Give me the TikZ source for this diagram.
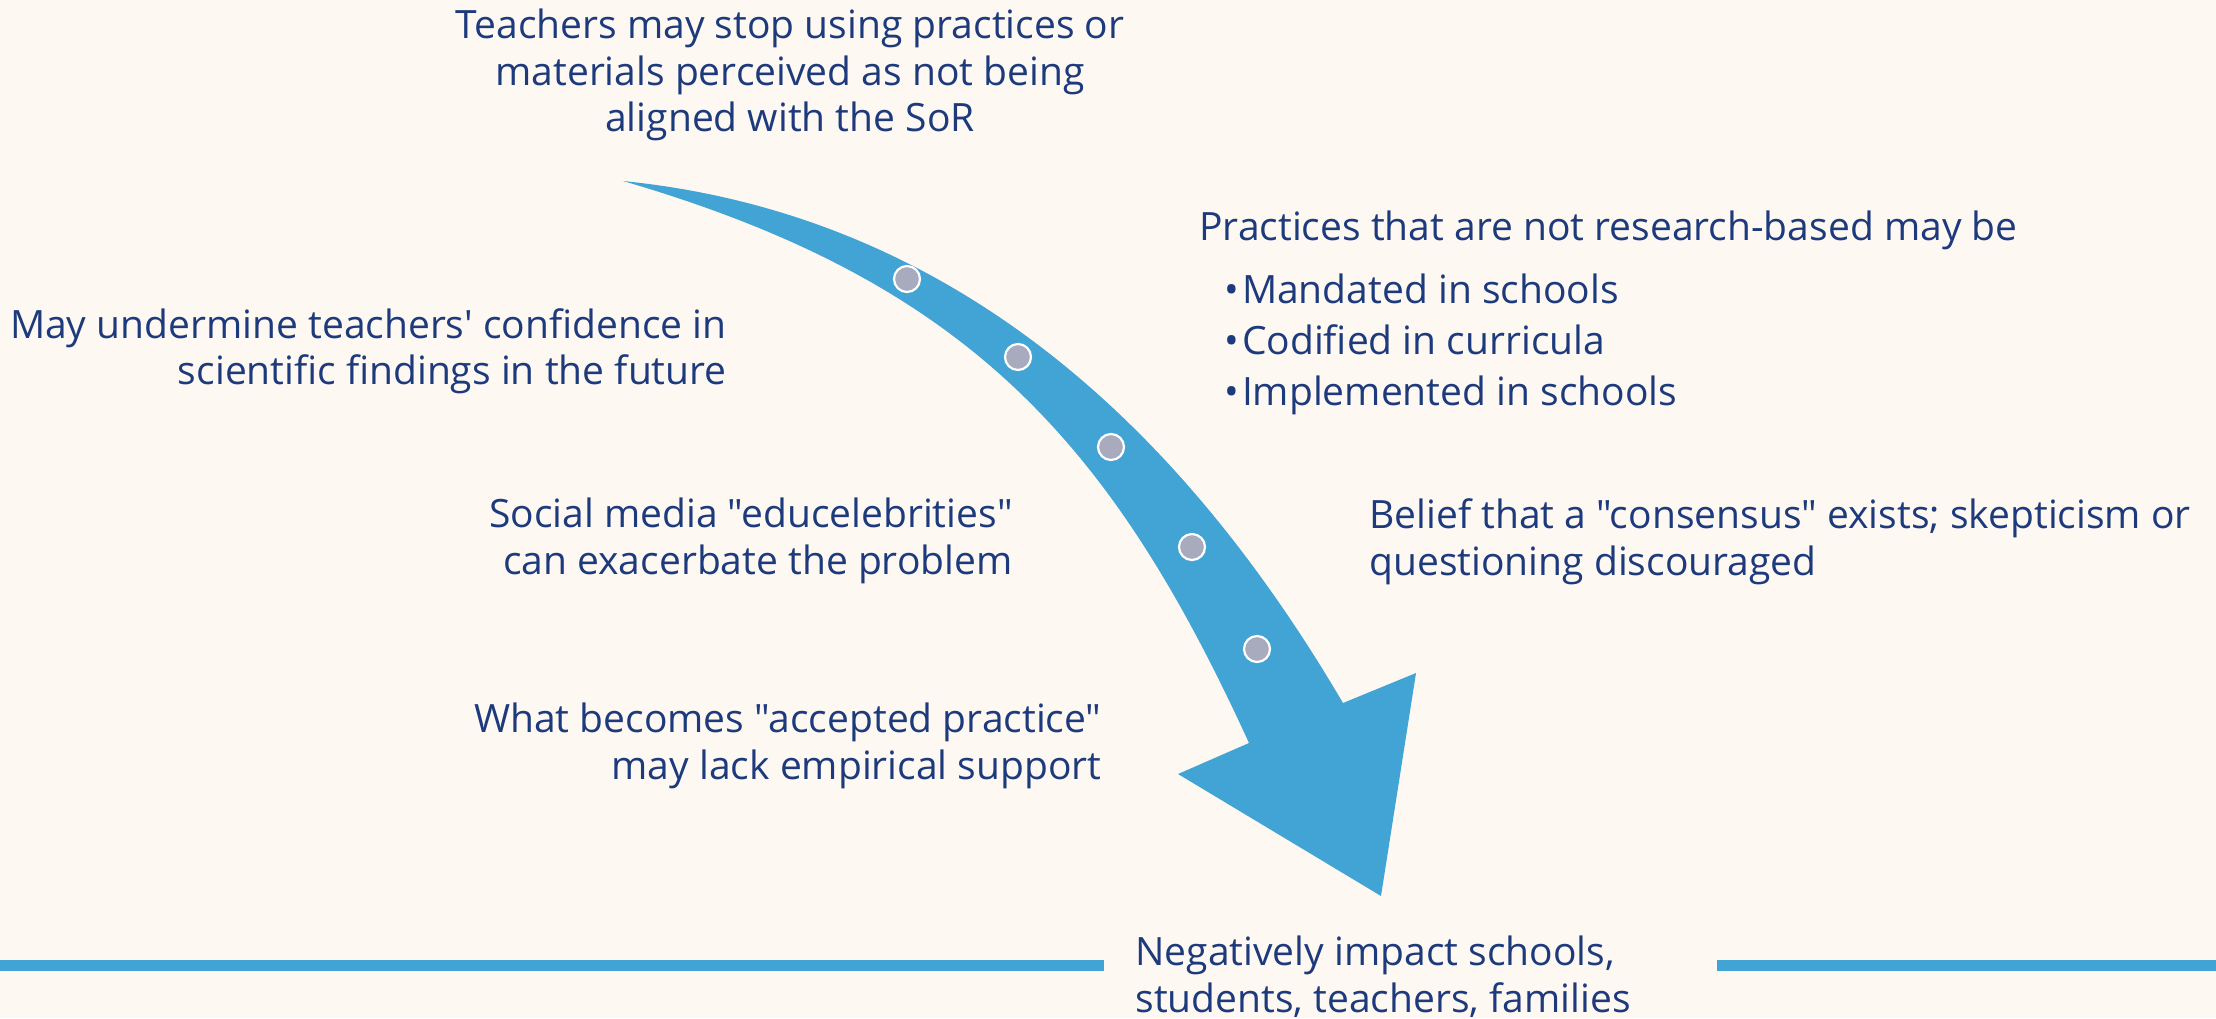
\documentclass[tikz,border=0pt]{standalone}
\usepackage{fontspec}
\newfontfamily\notefont{Open Sans}
\usetikzlibrary{positioning}

\definecolor{bgcream}{HTML}{FEF8F3}
\definecolor{flowblue}{HTML}{41A4D4}
\definecolor{inknavy}{HTML}{1D3A7C}
\definecolor{dotgray}{HTML}{A8ABBE}

\tikzset{
  note/.style={inner sep=0pt, text=inknavy, font=\notefont\fontsize{19.5}{23.3}\selectfont},
  listnote/.style={note, font=\notefont\fontsize{19.5}{25.5}\selectfont},
  stopdot/.style={circle, fill=dotgray, draw=white, line width=1.1pt, minimum size=13pt, inner sep=0pt},
  baseline rule/.style={draw=flowblue, line width=5.5pt}
}

\begin{document}
\begin{tikzpicture}[x=0.5pt,y=-0.5pt]
  \fill[bgcream] (0,0) rectangle (2216,1018);
  \useasboundingbox (0,0) rectangle (2216,1018);

  % the curved arrow
  \fill[flowblue] (623,181) .. controls (986,217.5) and (1206,470) .. (1343,703)
    -- (1416,673) -- (1381,896) -- (1178,774) -- (1249,743)
    .. controls (1111.7,443) and (968.6,281.8) .. (623,181) -- cycle;

  \foreach \p [count=\i] in {(907,279),(1018,357),(1111,447),(1192,547),(1257,649)}
    \node[stopdot] (dot\i) at \p {};

  % texts
  \node[note, anchor=north, align=center] (stopusing) at (790,8.4) {Teachers may stop using practices or\\materials perceived as not being\\aligned with the SoR};
  \node[note, anchor=north east, align=right] (confidence) at (727,308) {May undermine teachers' confidence in\\scientific findings in the future};
  \node[note, anchor=north east, align=right] (educeleb) at (1013,497.4) {Social media "educelebrities"\\can exacerbate the problem};
  \node[note, anchor=north east, align=right] (accepted) at (1102,702.4) {What becomes "accepted practice"\\may lack empirical support};
  \node[note, anchor=north west] (notresearch) at (1199,210.4) {Practices that are not research-based may be};
  \node[listnote, anchor=north west, align=left] (mandates) at (1224,273.4) {•\kern1.5pt Mandated in schools\\•\kern1.5pt Codified in curricula\\•\kern1.5pt Implemented in schools};
  \node[note, anchor=north west, align=left] (consensus) at (1369,498.4) {Belief that a "consensus" exists; skepticism or\\questioning discouraged};
  \node[note, anchor=north west, align=left] (impact) at (1135,935.4) {Negatively impact schools,\\students, teachers, families};

  % bottom rules
  \coordinate (ruleLa) at (0,965.5);
  \coordinate (ruleLb) at (1104,965.5);
  \coordinate (ruleRa) at (1717,965.5);
  \coordinate (ruleRb) at (2216,965.5);
  \draw[baseline rule] (ruleLa) -- (ruleLb);
  \draw[baseline rule] (ruleRa) -- (ruleRb);
\end{tikzpicture}
\end{document}
